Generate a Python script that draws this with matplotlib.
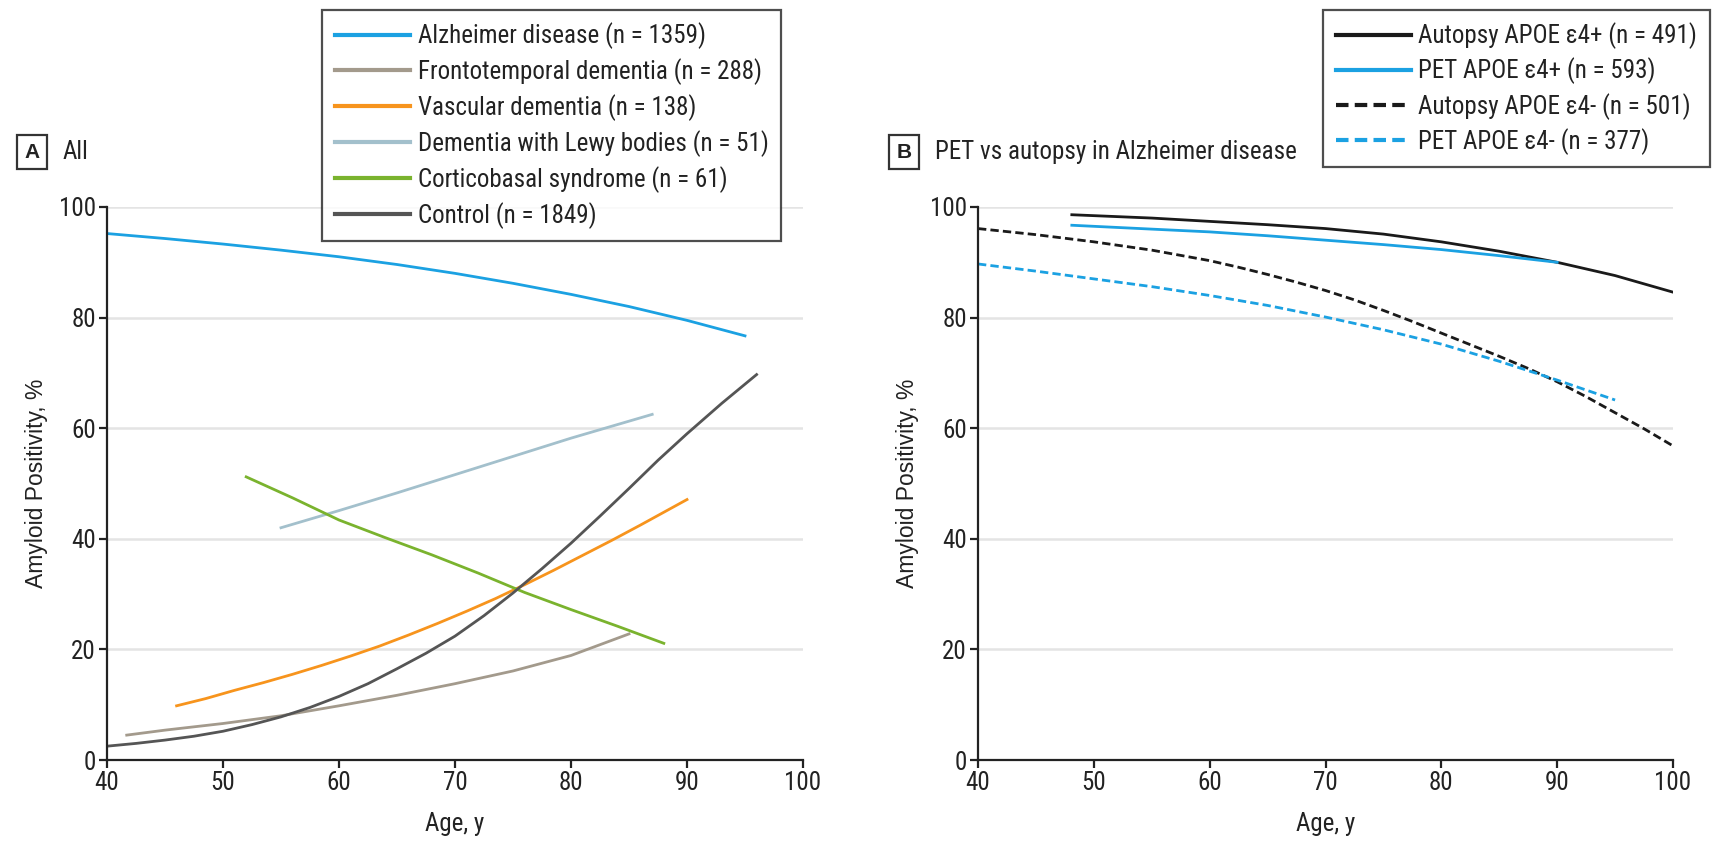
import matplotlib
matplotlib.use("Agg")
import matplotlib.pyplot as plt

# ---------------- Data ----------------
# Panel A: amyloid positivity (%) by age
ad_age = [40, 45, 50, 55, 60, 65, 70, 75, 80, 85, 90, 95]
ad_pos = [95.2, 94.3, 93.3, 92.2, 91.0, 89.6, 88.0, 86.2, 84.2, 82.0, 79.5, 76.7]

ftd_age = [41.7, 45, 50, 55, 60, 65, 70, 75, 80, 85]
ftd_pos = [4.5, 5.4, 6.6, 8.0, 9.8, 11.7, 13.8, 16.1, 18.9, 22.8]

vad_age = [46, 48.5, 51, 53.5, 56, 58.5, 61, 63.5, 66, 68.5, 71, 73.5, 76, 78.5, 81, 83.5, 86, 88, 90]
vad_pos = [9.8, 11.1, 12.6, 14.0, 15.5, 17.1, 18.8, 20.6, 22.6, 24.7, 26.9, 29.2, 31.7, 34.3, 37.0, 39.7, 42.5, 44.8, 47.1]

dlb_age = [55, 60, 65, 70, 75, 80, 87]
dlb_pos = [42.0, 45.1, 48.3, 51.6, 54.9, 58.2, 62.5]

cbs_age = [52, 56, 60, 64, 68, 72, 76, 80, 84, 88]
cbs_pos = [51.2, 47.4, 43.4, 40.2, 37.1, 33.8, 30.3, 27.2, 24.2, 21.1]

ctl_age = [40, 42.5, 45, 47.5, 50, 52.5, 55, 57.5, 60, 62.5, 65, 67.5, 70, 72.5,
           75, 77.5, 80, 82.5, 85, 87.5, 90, 93, 96]
ctl_pos = [2.5, 3.0, 3.6, 4.3, 5.2, 6.4, 7.8, 9.5, 11.5, 13.8, 16.5, 19.3, 22.4, 26.1,
           30.2, 34.6, 39.2, 44.1, 49.1, 54.2, 59.0, 64.5, 69.7]

a_labels = ["Alzheimer disease (n = 1359)", "Frontotemporal dementia (n = 288)",
            "Vascular dementia (n = 138)", "Dementia with Lewy bodies (n = 51)",
            "Corticobasal syndrome (n = 61)", "Control (n = 1849)"]

# Panel B: PET vs autopsy in Alzheimer disease
aut_pos_age = [48.1, 55, 60, 65, 70, 75, 80, 85, 90, 95, 100]
aut_pos_val = [98.6, 98.0, 97.4, 96.8, 96.1, 95.1, 93.7, 92.0, 90.0, 87.6, 84.6]

pet_pos_age = [48.1, 55, 60, 65, 70, 75, 80, 85, 90]
pet_pos_val = [96.7, 96.0, 95.5, 94.8, 94.0, 93.2, 92.3, 91.2, 90.0]

aut_neg_age = [40, 45, 50, 55, 60, 62.5, 65, 67.5, 70, 72.5, 75, 77.5, 80, 82.5,
               85, 87.5, 90, 92.5, 95, 97.5, 100]
aut_neg_val = [96.1, 95.0, 93.7, 92.2, 90.3, 89.1, 87.8, 86.4, 84.9, 83.2, 81.3, 79.3,
               77.2, 75.1, 73.0, 70.8, 68.4, 65.7, 62.8, 59.9, 56.8]

pet_neg_age = [40, 45, 50, 55, 60, 65, 70, 75, 80, 85, 90, 95]
pet_neg_val = [89.7, 88.4, 87.0, 85.6, 84.0, 82.2, 80.1, 77.8, 75.2, 72.1, 68.7, 65.1]

b_labels = ["Autopsy APOE \u03b54+ (n = 491)", "PET APOE \u03b54+ (n = 593)",
            "Autopsy APOE \u03b54- (n = 501)", "PET APOE \u03b54- (n = 377)"]

x_ticks = [40, 50, 60, 70, 80, 90, 100]
y_ticks = [0, 20, 40, 60, 80, 100]

# ---------------- Style ----------------
NARROW = ['Liberation Sans Narrow', 'Roboto Condensed', 'Liberation Sans', 'DejaVu Sans']
WIDE = ['Liberation Sans', 'DejaVu Sans']
plt.rcParams['font.family'] = NARROW
TXT = '#222222'

c_ad = '#1ba1e2'
c_ftd = '#a39a8c'
c_vad = '#f7941d'
c_dlb = '#a3c0cc'
c_cbs = '#7ab32e'
c_ctl = '#555555'
c_blk = '#1a1a1a'

W, H = 1714, 841
fig = plt.figure(figsize=(W / 100, H / 100), dpi=100)


def fx(px):
    return px / W


def fy(py):
    return 1 - py / H


axA = fig.add_axes([fx(107), fy(760), fx(803) - fx(107), fy(207) - fy(760)])
axB = fig.add_axes([fx(978), fy(760), fx(1673) - fx(978), fy(207) - fy(760)])

lw = 2.0
for ax in (axA, axB):
    ax.set_xlim(40, 100)
    ax.set_ylim(0, 100)
    ax.set_xticks(x_ticks)
    ax.set_yticks(y_ticks)
    ax.yaxis.grid(True, color='#e4e4e4', lw=1.8)
    ax.set_axisbelow(True)
    for s in ('top', 'right'):
        ax.spines[s].set_visible(False)
    for s in ('left', 'bottom'):
        ax.spines[s].set_linewidth(1.6)
        ax.spines[s].set_color('#222222')
    ax.tick_params(direction='out', length=6, width=1.6, labelsize=18,
                   colors='#222222', labelcolor=TXT, pad=2)
    ax.set_xlabel("Age, y", fontsize=18, color=TXT, labelpad=12)
    ax.set_ylabel("Amyloid Positivity, %", fontsize=16.5, color=TXT,
                  family=WIDE, labelpad=8)

# Panel A
hA = []
hA += axA.plot(ad_age, ad_pos, color=c_ad, lw=lw)
hA += axA.plot(ftd_age, ftd_pos, color=c_ftd, lw=lw)
hA += axA.plot(vad_age, vad_pos, color=c_vad, lw=lw)
hA += axA.plot(dlb_age, dlb_pos, color=c_dlb, lw=lw)
hA += axA.plot(cbs_age, cbs_pos, color=c_cbs, lw=lw)
hA += axA.plot(ctl_age, ctl_pos, color=c_ctl, lw=lw)

# Panel B
dash = (0, (3, 1.5))
hB = []
hB += axB.plot(aut_pos_age, aut_pos_val, color=c_blk, lw=lw)
hB += axB.plot(pet_pos_age, pet_pos_val, color=c_ad, lw=lw)
hB += axB.plot(aut_neg_age, aut_neg_val, color=c_blk, lw=lw, ls=dash)
hB += axB.plot(pet_neg_age, pet_neg_val, color=c_ad, lw=lw, ls=dash)

legA = fig.legend(hA, a_labels, loc='upper left', bbox_to_anchor=(fx(322), fy(10)),
                  fontsize=18, frameon=True, fancybox=False, edgecolor='#222222',
                  handlelength=3.0, handletextpad=0.32, labelspacing=0.36,
                  borderpad=0.5, borderaxespad=0)
legA.get_frame().set_linewidth(1.6)
for t in legA.get_texts():
    t.set_color(TXT)
for l in legA.get_lines():
    l.set_linewidth(3.0)

legB = fig.legend(hB, b_labels, loc='upper left', bbox_to_anchor=(fx(1323), fy(10)),
                  fontsize=18, frameon=True, fancybox=False, edgecolor='#222222',
                  handlelength=3.0, handletextpad=0.32, labelspacing=0.33,
                  borderpad=0.5, borderaxespad=0)
legB.get_frame().set_linewidth(1.6)
for t in legB.get_texts():
    t.set_color(TXT)
for l in legB.get_lines():
    l.set_linewidth(3.0)

# Panel labels
box = dict(boxstyle='square,pad=0.35', fc='white', ec='#333333', lw=1.6)
fig.text(fx(32), fy(152), "A", fontsize=15, fontweight='bold', color=TXT,
         ha='center', va='center', bbox=box, family=WIDE)
fig.text(fx(63), fy(152), "All", fontsize=18, color=TXT, ha='left', va='center')
fig.text(fx(904), fy(152), "B", fontsize=15, fontweight='bold', color=TXT,
         ha='center', va='center', bbox=box, family=WIDE)
fig.text(fx(935), fy(152), "PET vs autopsy in Alzheimer disease", fontsize=18,
         color=TXT, ha='left', va='center')

fig.savefig("out.png", dpi=100)
